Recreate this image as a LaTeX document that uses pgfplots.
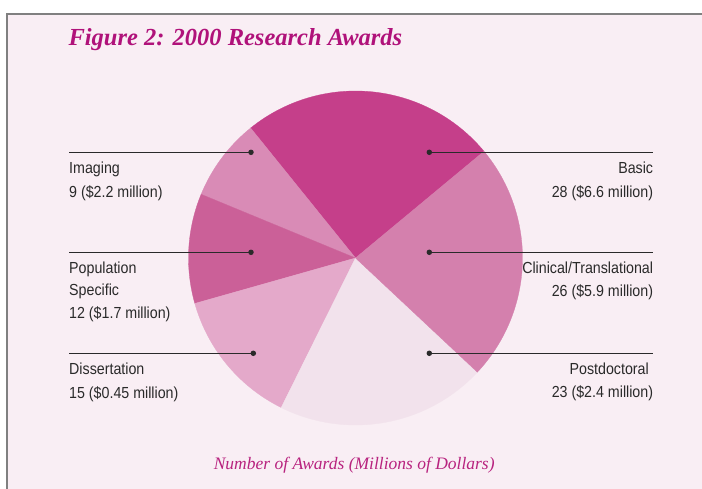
\documentclass[border=0pt]{standalone}
\usepackage{pgfplots}
\pgfplotsset{compat=1.18}
\usepackage{fontspec}
\setmainfont{Liberation Serif}
\newfontfamily\lblfont[FakeStretch=0.89]{Liberation Sans}
\definecolor{bg}{HTML}{F9EEF4}
\definecolor{frame}{HTML}{808080}
\definecolor{ttl}{HTML}{B0127A}
\definecolor{cap}{HTML}{B8237F}
\definecolor{lbl}{HTML}{2A2A2A}
\definecolor{cBasic}{HTML}{C53F8A}
\definecolor{cClin}{HTML}{D480AD}
\definecolor{cPost}{HTML}{F2E2EC}
\definecolor{cDiss}{HTML}{E4A9CA}
\definecolor{cPop}{HTML}{CB6098}
\definecolor{cImg}{HTML}{D98BB6}
% data: number of awards
\def\vBasic{28}\def\vImg{9}\def\vPop{12}\def\vDiss{15}\def\vPost{23}\def\vClin{26}
\pgfmathsetmacro\tot{\vBasic+\vImg+\vPop+\vDiss+\vPost+\vClin}
\pgfmathsetmacro\aA{39.7}
\pgfmathsetmacro\aB{\aA+360*\vBasic/\tot}
\pgfmathsetmacro\aC{\aB+360*\vImg/\tot}
\pgfmathsetmacro\aD{\aC+360*\vPop/\tot}
\pgfmathsetmacro\aE{\aD+360*\vDiss/\tot}
\pgfmathsetmacro\aF{\aE+360*\vPost/\tot}
\pgfmathsetmacro\aG{\aF+360*\vClin/\tot}
\def\cx{355.5}\def\cy{231}\def\R{167}
\newcommand\lab{\lblfont\fontsize{16}{19}\selectfont}
\begin{document}
\begin{tikzpicture}
\begin{axis}[width=702pt,height=489pt,scale only axis,
  xmin=0,xmax=702,ymin=0,ymax=489,hide axis,clip=false]
\fill[white] (0,0) rectangle (702,489);
\fill[bg] (7.3,0) rectangle (702,475);
\draw[frame, line width=1.7pt] (7.3,0) -- (7.3,475) -- (702,475);
% wedges
\addplot[draw=cBasic,fill=cBasic,line width=0.3pt,domain=\aA:\aB,samples=80] ({\cx+\R*cos(x)},{\cy+\R*sin(x)}) -- (\cx,\cy) -- cycle;
\addplot[draw=cImg,fill=cImg,line width=0.3pt,domain=\aB:\aC,samples=40] ({\cx+\R*cos(x)},{\cy+\R*sin(x)}) -- (\cx,\cy) -- cycle;
\addplot[draw=cPop,fill=cPop,line width=0.3pt,domain=\aC:\aD,samples=40] ({\cx+\R*cos(x)},{\cy+\R*sin(x)}) -- (\cx,\cy) -- cycle;
\addplot[draw=cDiss,fill=cDiss,line width=0.3pt,domain=\aD:\aE,samples=50] ({\cx+\R*cos(x)},{\cy+\R*sin(x)}) -- (\cx,\cy) -- cycle;
\addplot[draw=cPost,fill=cPost,line width=0.3pt,domain=\aE:\aF,samples=70] ({\cx+\R*cos(x)},{\cy+\R*sin(x)}) -- (\cx,\cy) -- cycle;
\addplot[draw=cClin,fill=cClin,line width=0.3pt,domain=\aF:\aG,samples=80] ({\cx+\R*cos(x)},{\cy+\R*sin(x)}) -- (\cx,\cy) -- cycle;
% leader lines
\addplot[lbl,line width=1pt,mark=*,mark size=2.2pt,mark indices={2},mark options={fill=lbl}] coordinates {(69,336.7) (251,336.7)};
\addplot[lbl,line width=1pt,mark=*,mark size=2.2pt,mark indices={2},mark options={fill=lbl}] coordinates {(69,236.7) (251,236.7)};
\addplot[lbl,line width=1pt,mark=*,mark size=2.2pt,mark indices={2},mark options={fill=lbl}] coordinates {(69,135.7) (253.3,135.7)};
\addplot[lbl,line width=1pt,mark=*,mark size=2.2pt,mark indices={1},mark options={fill=lbl}] coordinates {(429.3,336.7) (653.3,336.7)};
\addplot[lbl,line width=1pt,mark=*,mark size=2.2pt,mark indices={1},mark options={fill=lbl}] coordinates {(429.3,236.7) (653.3,236.7)};
\addplot[lbl,line width=1pt,mark=*,mark size=2.2pt,mark indices={1},mark options={fill=lbl}] coordinates {(429.3,135.7) (653.3,135.7)};
% labels
\begin{scope}[every node/.style={inner sep=0,text=lbl,font=\lab}]
\node[anchor=base west] at (69,315.7) {Imaging};
\node[anchor=base west] at (69,291.7) {9 (\$2.2 million)};
\node[anchor=base west] at (69,215.7) {Population};
\node[anchor=base west] at (69,193) {Specific};
\node[anchor=base west] at (69,170.3) {12 (\$1.7 million)};
\node[anchor=base west] at (69,114) {Dissertation};
\node[anchor=base west] at (69,90.3) {15 (\$0.45 million)};
\node[anchor=base east] at (653.3,315.7) {Basic};
\node[anchor=base east] at (653.3,291.7) {28 (\$6.6 million)};
\node[anchor=base east] at (653.3,215.7) {Clinical/Translational};
\node[anchor=base east] at (653.3,192.3) {26 (\$5.9 million)};
\node[anchor=base east] at (649,114) {Postdoctoral};
\node[anchor=base east] at (653.3,91.7) {23 (\$2.4 million)};
\end{scope}
\node[anchor=base west,inner sep=0,text=ttl,font=\fontsize{24.5}{28}\selectfont\bfseries\itshape] at (68.3,443) {Figure 2: 2000 Research Awards};
\node[anchor=base,inner sep=0,text=cap,font=\fontsize{17.5}{20}\selectfont\itshape] at (354.2,19) {Number of Awards (Millions of Dollars)};
\end{axis}
\pgfresetboundingbox
\path[use as bounding box] (0,0) rectangle (702pt,489pt);
\end{tikzpicture}
\end{document}
